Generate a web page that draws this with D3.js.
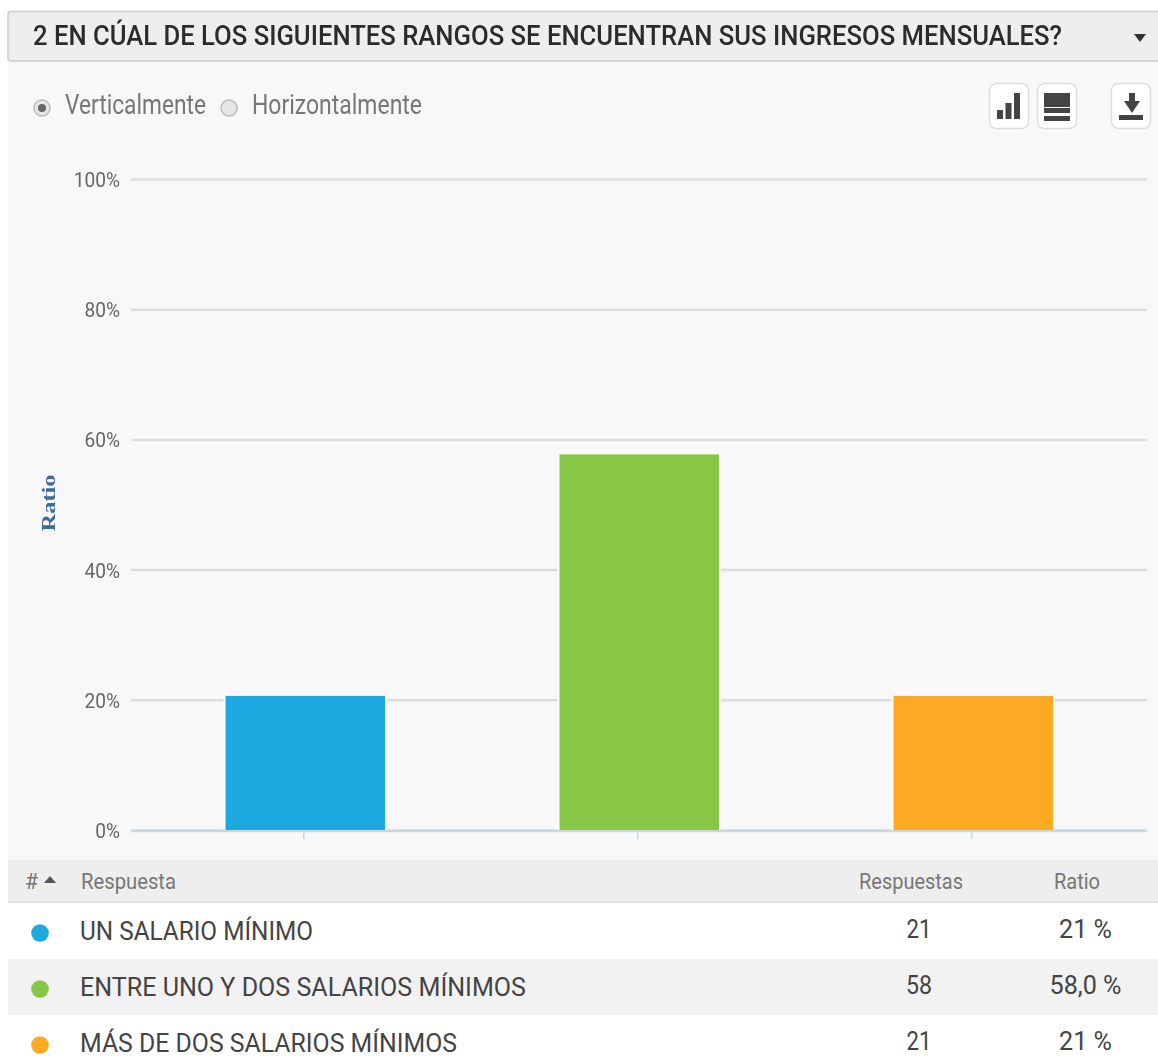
<!DOCTYPE html>
<html>
<head>
<meta charset="utf-8">
<script src="https://cdn.jsdelivr.net/npm/d3@7"></script>
<style>
html, body { margin: 0; padding: 0; background: #fff; overflow: hidden; }
text { font-family: Roboto, sans-serif; }
svg { filter: blur(0.4px); }
</style>
</head>
<body>
<div id="chart"></div>
<script>
var categories = ["UN SALARIO MÍNIMO", "ENTRE UNO Y DOS SALARIOS MÍNIMOS", "MÁS DE DOS SALARIOS MÍNIMOS"];
var barRatios = [20.6, 57.7, 20.6];
var responses = ["21", "58", "21"];
var ratioLabels = ["21 %", "58,0 %", "21 %"];
var barColors = ["#1ea8e0", "#88c646", "#fca923"];
var yTicks = [0, 20, 40, 60, 80, 100];

var width = 1158, height = 1061;

var svg = d3.select("#chart").append("svg")
    .attr("width", width)
    .attr("height", height)
    .style("display", "block");

// text is narrower than the font in the reference, so squeeze it to a target width
function addText(x, y, str, size, targetWidth, color, anchor, weight) {
    var t = svg.append("text")
        .text(str)
        .attr("x", x)
        .attr("y", y)
        .attr("fill", color)
        .attr("text-anchor", anchor || "start")
        .style("font-size", size + "px")
        .style("font-weight", weight || 400);
    if (targetWidth) {
        t.attr("textLength", targetWidth).attr("lengthAdjust", "spacingAndGlyphs");
    }
    return t;
}

// panel + header
svg.append("rect").attr("x", 8).attr("y", 60).attr("width", 1150).attr("height", 800).attr("fill", "#f8f8f8");
svg.append("rect").attr("x", 8).attr("y", 11.5).attr("width", 1152).attr("height", 49.5).attr("rx", 3)
    .attr("fill", "#eeeeee").attr("stroke", "#cccccc").attr("stroke-width", 1.5);
addText(33, 45, "2 EN CÚAL DE LOS SIGUIENTES RANGOS SE ENCUENTRAN SUS INGRESOS MENSUALES?", 27, 1029, "#2b2b2b", "start", 500);
svg.append("path").attr("d", "M1134,34L1146,34L1140,42Z").attr("fill", "#333333");

// radios
[[42, true], [229, false]].forEach(function(r) {
    svg.append("circle").attr("cx", r[0]).attr("cy", 108).attr("r", 8)
        .attr("fill", "#e6e6e6").attr("stroke", "#bbbbbb").attr("stroke-width", 1.5);
    if (r[1]) svg.append("circle").attr("cx", r[0]).attr("cy", 108).attr("r", 4).attr("fill", "#666666");
});
addText(65, 114, "Verticalmente", 27, 141, "#777777");
addText(252, 114, "Horizontalmente", 27, 170, "#777777");

// buttons
[989.5, 1037.5, 1111.5].forEach(function(x) {
    svg.append("rect").attr("x", x).attr("y", 83.5).attr("width", 39).attr("height", 45).attr("rx", 7)
        .attr("fill", "#ffffff").attr("stroke", "#dddddd").attr("stroke-width", 1.5);
});
var iconColor = "#444444";
[[997, 110, 6, 9], [1005.5, 103, 6, 16], [1014, 93, 6, 26],
 [1044, 93, 26, 14], [1044, 108, 26, 5], [1044, 116, 26, 5],
 [1119, 115, 24, 5]].forEach(function(r) {
    svg.append("rect").attr("x", r[0]).attr("y", r[1]).attr("width", r[2]).attr("height", r[3]).attr("fill", iconColor);
});
svg.append("path").attr("d", "M1129,93L1135,93L1135,101L1140,101L1132,113L1124,101L1129,101Z").attr("fill", iconColor);

// scales
var x = d3.scaleBand()
    .domain(categories)
    .range([138.25, 1140.25])
    .paddingInner(0.5225)
    .paddingOuter(0.26125);

var y = d3.scaleLinear()
    .domain([0, 100])
    .range([830, 179]);

// y axis with gridlines
var yAxis = svg.append("g")
    .attr("transform", "translate(131,0)")
    .call(d3.axisLeft(y).tickValues(yTicks).tickSize(-1016).tickPadding(11).tickFormat(function(d) { return d + "%"; }));
yAxis.select(".domain").remove();
yAxis.selectAll("line").attr("stroke", "#dddddd").attr("stroke-width", 2.5);
yAxis.selectAll("text")
    .attr("fill", "#666666")
    .style("font-size", "21px")
    .attr("dy", "0.36em")
    .each(function() {
        var w = this.getComputedTextLength();
        d3.select(this).attr("textLength", w * 0.91).attr("lengthAdjust", "spacingAndGlyphs");
    });

// x axis, ticks only
var xAxis = svg.append("g")
    .attr("transform", "translate(-1.5,830)")
    .call(d3.axisBottom(x).tickSize(9).tickFormat(""));
xAxis.select(".domain").remove();
xAxis.selectAll("line").attr("stroke", "#ccd6e0").attr("stroke-width", 1.5);
svg.append("line").attr("x1", 131).attr("x2", 1147).attr("y1", 831).attr("y2", 831)
    .attr("stroke", "#ccd6e0").attr("stroke-width", 2.5);

// pale halo behind each bar, it cuts the gridlines
svg.selectAll(".bar-halo")
    .data(categories)
    .enter().append("rect")
    .attr("class", "bar-halo")
    .attr("x", function(d) { return x(d); })
    .attr("width", x.bandwidth())
    .attr("y", function(d, i) { return y(barRatios[i]); })
    .attr("height", function(d, i) { return y(0) - y(barRatios[i]) - 2; })
    .attr("fill", "#fbfbfb")
    .attr("stroke", "#fbfbfb")
    .attr("stroke-width", 4);

svg.selectAll(".bar")
    .data(categories)
    .enter().append("rect")
    .attr("class", "bar")
    .attr("x", function(d) { return x(d); })
    .attr("width", x.bandwidth())
    .attr("y", function(d, i) { return y(barRatios[i]); })
    .attr("height", function(d, i) { return y(0) - y(barRatios[i]); })
    .attr("fill", function(d, i) { return barColors[i]; });

// axis title
svg.append("text")
    .text("Ratio")
    .attr("transform", "translate(54.5,503) rotate(-90)")
    .attr("text-anchor", "middle")
    .attr("fill", "#3f6a9b")
    .attr("textLength", 57)
    .attr("lengthAdjust", "spacingAndGlyphs")
    .style("font-family", "'Liberation Serif', serif")
    .style("font-weight", "bold")
    .style("font-size", "19px");

// table header
svg.append("rect").attr("x", 8).attr("y", 860).attr("width", 1150).attr("height", 42).attr("fill", "#eeeeee");
svg.append("line").attr("x1", 8).attr("x2", 1158).attr("y1", 902.5).attr("y2", 902.5).attr("stroke", "#dedede").attr("stroke-width", 1.5);
addText(25, 889, "#", 22, 13, "#777777");
svg.append("path").attr("d", "M44,883L56,883L50,876Z").attr("fill", "#555555");
addText(81, 889, "Respuesta", 22, 95, "#777777");
addText(859, 889, "Respuestas", 22, 104, "#777777");
addText(1054, 889, "Ratio", 22, 46, "#777777");

// table rows
var rowY = d3.scaleBand()
    .domain(categories)
    .range([903, 1071]);

svg.selectAll(".row-bg")
    .data(categories)
    .enter().append("rect")
    .attr("class", "row-bg")
    .attr("x", 8)
    .attr("width", 1150)
    .attr("y", function(d) { return rowY(d); })
    .attr("height", rowY.bandwidth())
    .attr("fill", function(d, i) { return i % 2 ? "#f2f2f2" : "#ffffff"; });

svg.selectAll(".dot")
    .data(categories)
    .enter().append("circle")
    .attr("class", "dot")
    .attr("cx", 40)
    .attr("cy", function(d) { return rowY(d) + 30; })
    .attr("r", 8.8)
    .attr("fill", function(d, i) { return barColors[i]; });

var labelWidths = [233, 446, 377];
categories.forEach(function(d, i) {
    var top = rowY(d);
    addText(80, top + 37, d, 25, labelWidths[i], "#444444");
    addText(919, top + 35, responses[i], 25, i == 1 ? 26 : 25, "#444444", "middle");
    addText(1085.5, top + 35, ratioLabels[i], 25, i == 1 ? 72 : 53, "#444444", "middle");
});
</script>
</body>
</html>
